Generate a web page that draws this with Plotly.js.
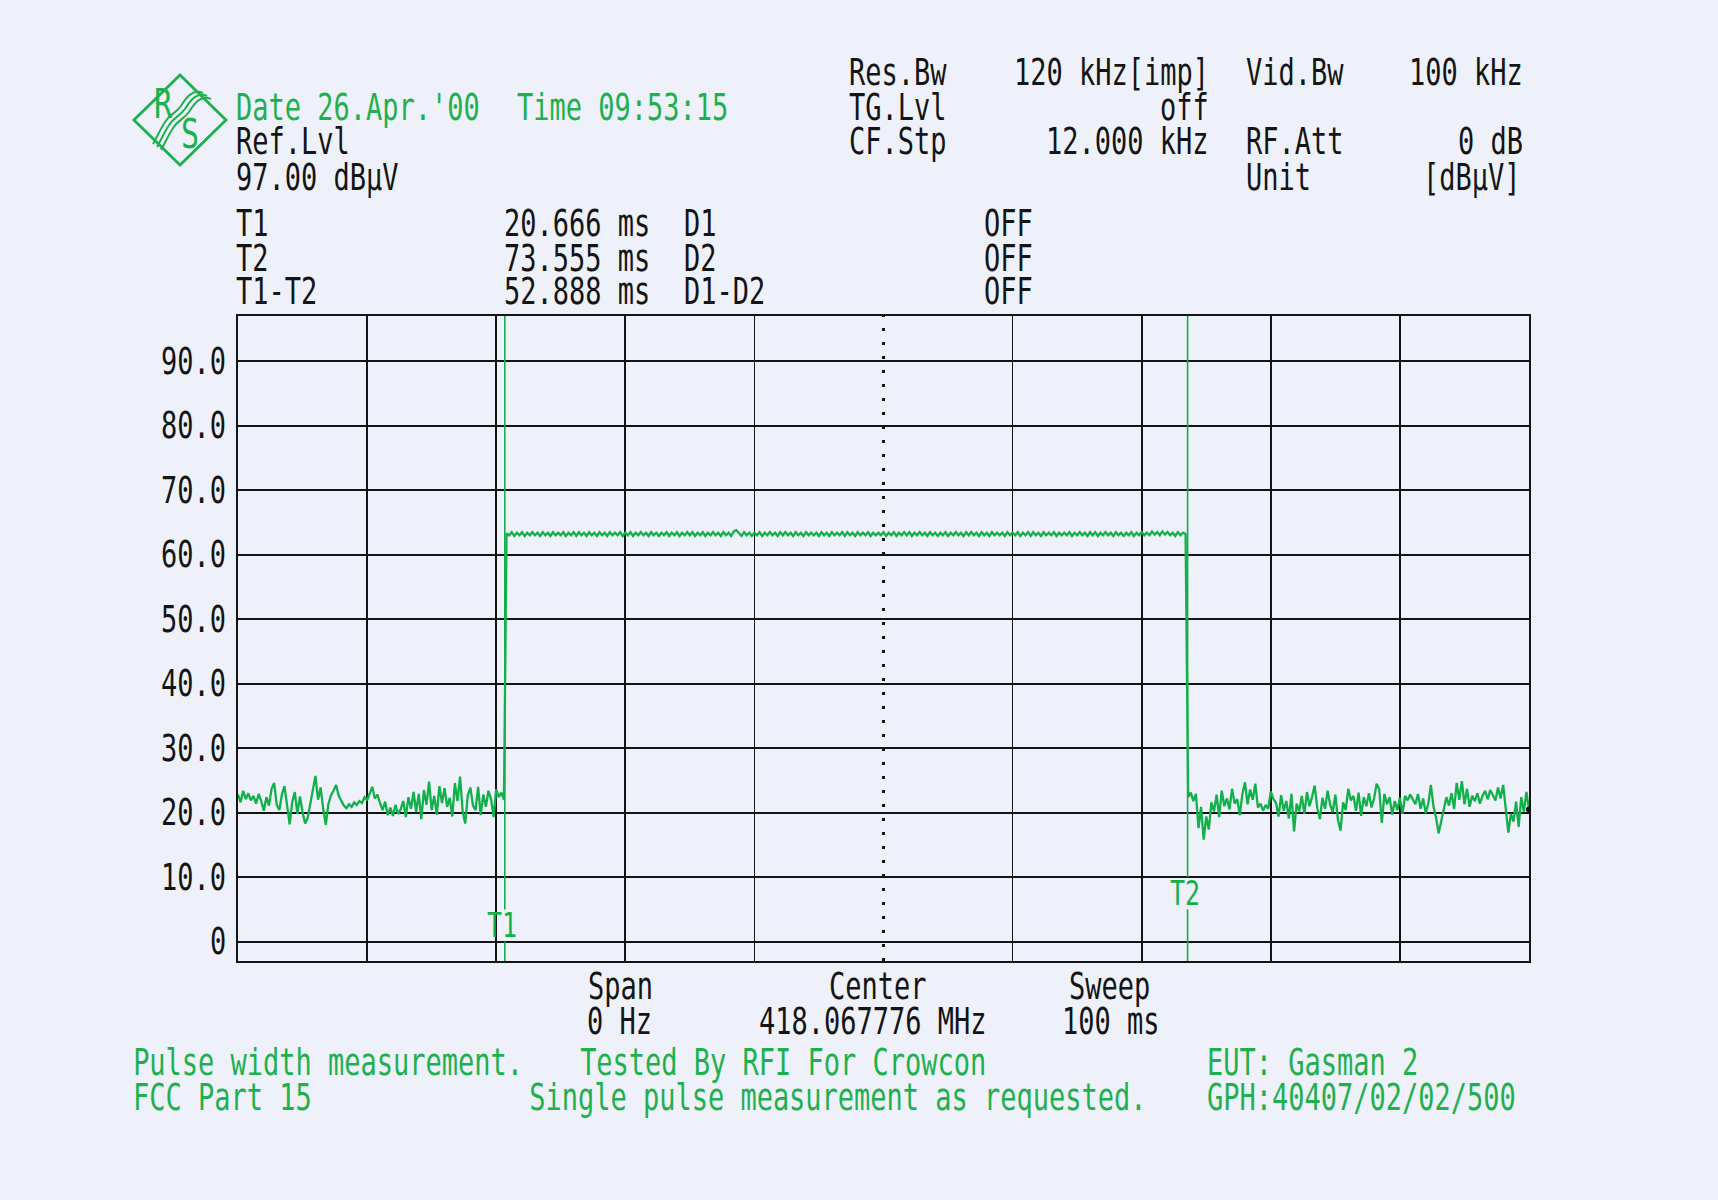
<!DOCTYPE html>
<html>
<head>
<meta charset="utf-8">
<script src="https://cdn.plot.ly/plotly-3.0.1.min.js"></script>
<style>
  body { margin: 0; background: #edf1f9; }
  #chart { width: 1718px; height: 1200px; }
</style>
</head>
<body>
<div id="chart"></div>
<script>
// sweep settings of the analyzer
var sweepTime = 100;   // ms
var sweepStep = 0.2;   // ms between trace points

// trace levels in dBuV
var noiseBefore = [
  22.8, 21.6, 23.4, 22.1, 23.0, 21.9, 22.6, 21.4,
  22.9, 21.8, 20.3, 22.4, 21.1, 23.7, 24.6, 21.2,
  20.4, 22.8, 24.1, 20.9, 18.2, 21.6, 23.2, 19.8,
  22.5, 20.1, 18.3, 19.2, 21.4, 23.5, 25.7, 22.0,
  23.9, 20.6, 18.1, 21.3, 22.7, 23.4, 24.3, 22.6,
  21.9, 21.1, 20.7, 21.3, 20.9, 21.6, 21.2, 21.8,
  21.5, 22.4, 21.9, 23.1, 24.0, 22.2, 22.8, 21.5,
  20.4, 21.7, 19.6, 20.8, 19.5, 21.2, 19.8, 20.5,
  21.8, 19.3, 22.4, 20.6, 23.2, 20.1, 22.9, 19.0,
  23.5, 21.2, 24.8, 20.4, 22.6, 19.7, 24.1, 21.5,
  23.8, 20.9, 22.3, 19.4, 24.6, 21.8, 25.6, 20.2,
  18.3, 22.7, 23.9, 21.1, 20.4, 24.0, 19.6, 22.8,
  20.9, 23.4, 22.1, 19.3, 23.6, 22.4, 23.1, 22.0
];

var pulseTop = [
  63.3, 63.0, 63.5, 62.9, 63.4, 63.0, 63.5, 62.9, 63.4, 63.0, 63.5, 63.0,
  63.4, 62.9, 63.5, 63.0, 63.4, 62.9, 63.5, 63.0, 63.4, 63.0, 63.5, 62.9,
  63.4, 63.0, 63.5, 62.9, 63.5, 63.0, 63.4, 62.9, 63.5, 63.0, 63.4, 62.9,
  63.5, 63.0, 63.4, 62.9, 63.5, 63.0, 63.4, 63.0, 63.5, 62.9, 63.4, 63.0,
  63.5, 62.9, 63.4, 63.0, 63.5, 63.0, 63.4, 62.9, 63.5, 63.0, 63.4, 62.9,
  63.4, 63.0, 63.5, 62.9, 63.4, 63.0, 63.5, 62.9, 63.4, 63.0, 63.5, 63.0,
  63.5, 62.9, 63.4, 63.0, 63.5, 62.9, 63.4, 63.0, 63.5, 63.0, 63.4, 62.9,
  63.5, 63.0, 63.4, 62.9, 63.6, 63.8, 63.3, 62.9, 63.5, 63.0, 63.4, 62.9,
  63.4, 63.0, 63.5, 62.9, 63.4, 63.0, 63.5, 63.0, 63.4, 62.9, 63.5, 63.0,
  63.5, 63.0, 63.4, 62.9, 63.5, 63.0, 63.4, 62.9, 63.5, 63.0, 63.4, 63.0,
  63.4, 62.9, 63.5, 63.0, 63.4, 62.9, 63.5, 63.0, 63.4, 63.0, 63.5, 62.9,
  63.5, 63.0, 63.4, 62.9, 63.5, 63.0, 63.4, 63.0, 63.5, 62.9, 63.4, 63.0,
  63.4, 63.0, 63.5, 62.9, 63.4, 63.0, 63.5, 62.9, 63.4, 63.0, 63.5, 63.0,
  63.5, 62.9, 63.4, 63.0, 63.5, 63.0, 63.4, 62.9, 63.5, 63.0, 63.4, 62.9,
  63.4, 63.0, 63.5, 62.9, 63.4, 63.0, 63.5, 63.0, 63.4, 62.9, 63.5, 63.0,
  63.5, 63.0, 63.4, 62.9, 63.5, 63.0, 63.4, 62.9, 63.5, 63.0, 63.4, 63.0,
  63.4, 62.9, 63.5, 63.0, 63.4, 63.0, 63.5, 62.9, 63.4, 63.0, 63.5, 62.9,
  63.5, 63.0, 63.4, 62.9, 63.5, 63.0, 63.4, 63.0, 63.5, 62.9, 63.4, 63.0,
  63.4, 63.0, 63.5, 62.9, 63.4, 63.0, 63.5, 63.0, 63.4, 62.9, 63.5, 63.0,
  63.5, 62.9, 63.4, 63.0, 63.5, 63.0, 63.4, 62.9, 63.5, 63.0, 63.4, 62.9,
  63.4, 63.0, 63.5, 62.9, 63.4, 63.0, 63.5, 63.0, 63.4, 63.0, 63.6, 63.1,
  63.5, 63.0, 63.6, 63.1, 63.5, 63.0, 63.4, 62.9, 63.5, 63.0, 63.4, 63.2
];

var noiseAfter = [
  22.4, 23.1, 21.8, 22.9, 17.6, 20.9, 15.8, 19.4,
  17.4, 21.6, 20.2, 22.8, 19.3, 23.4, 21.0, 22.2,
  20.5, 23.7, 21.4, 22.1, 19.6, 22.9, 24.7, 21.3,
  23.6, 22.0, 24.5, 20.8, 21.4, 20.3, 21.2, 20.6,
  23.3, 22.1, 21.5, 19.4, 22.7, 20.3, 21.8, 19.1,
  22.9, 17.1, 21.4, 20.2, 22.6, 19.8, 23.2, 21.0,
  22.5, 24.2, 20.7, 19.0, 22.3, 20.6, 23.4, 21.2,
  20.1, 22.8, 18.9, 17.2, 21.6, 20.4, 23.7, 21.9,
  22.6, 20.3, 23.1, 19.5, 22.4, 21.0, 23.0, 20.8,
  22.2, 24.5, 23.6, 18.4, 22.9, 21.3, 22.4, 19.7,
  21.8, 20.4, 22.3, 19.8, 22.6, 21.9, 22.8, 22.1,
  21.3, 22.9, 20.6, 22.2, 19.9, 21.4, 24.3, 21.0,
  19.2, 16.8, 18.5, 20.7, 22.4, 21.1, 23.0, 20.6,
  24.6, 22.0, 24.9, 21.3, 23.7, 20.9, 22.6, 21.8,
  23.0, 21.4, 22.6, 23.4, 22.1, 23.5, 22.8, 21.9,
  23.9, 22.2, 24.3, 20.5, 16.9, 19.8, 18.6, 21.7,
  17.8, 22.4, 20.1, 23.2, 20.5
];

var markerNames = ['T1', 'T2'];
var markerTimes = [20.666, 73.555];

var levelTicks = [0, 10, 20, 30, 40, 50, 60, 70, 80, 90];
var levelLabels = ['0', '10.0', '20.0', '30.0', '40.0', '50.0', '60.0', '70.0', '80.0', '90.0'];
var timeGrid = [10, 20, 30, 40, 60, 70, 80, 90];
var centerTime = 50;

// look
var paperTint = '#eef1f9';
var ink = '#141414';
var traceGreen = '#12b04a';
var textGreen = '#1fb04e';
var mono = '"DejaVu Sans Mono", "Liberation Mono", monospace';

// plot box on the page, in pixels
var boxL = 238, boxR = 1529, boxT = 316, boxB = 961;
function px(x) { return (x - boxL) / (boxR - boxL); }
function py(y) { return (boxB - y) / (boxB - boxT); }
function pt(x, y) { return px(x).toFixed(4) + ',' + py(y).toFixed(4); }

var level = noiseBefore.concat(pulseTop, noiseAfter);
var times = level.map(function (v, i) { return Math.round(i * sweepStep * 1000) / 1000; });

var trace = {
  x: times,
  y: level,
  type: 'scatter',
  mode: 'lines',
  line: {color: traceGreen, width: 2.3},
  hoverinfo: 'skip'
};

var endDot = {
  x: [times[times.length - 1]],
  y: [level[level.length - 1]],
  type: 'scatter',
  mode: 'markers',
  marker: {color: ink, size: 6},
  hoverinfo: 'skip'
};

function txt(s, x, y, anchor, color, size) {
  anchor = anchor || 'left';
  // small nudge for the annotation padding
  if (anchor == 'left') x = x - 2;
  if (anchor == 'right') x = x + 4;
  return {
    text: s, xref: 'paper', yref: 'paper', x: px(x), y: py(y),
    xanchor: anchor, yanchor: 'middle', showarrow: false,
    font: {family: mono, size: size || 27, color: color || ink}
  };
}

var notes = [
  // header, right block
  txt('Res.Bw', 849, 73), txt('120 kHz[imp]', 1207, 73, 'right'),
  txt('Vid.Bw', 1246, 73), txt('100 kHz', 1521, 73, 'right'),
  txt('TG.Lvl', 849, 107), txt('off', 1207, 107, 'right'),
  txt('CF.Stp', 849, 142), txt('12.000 kHz', 1207, 142, 'right'),
  txt('RF.Att', 1246, 142), txt('0 dB', 1521, 142, 'right'),
  txt('Unit', 1246, 177), txt('[dBµV]', 1519, 177, 'right'),
  // header, left block
  txt("Date 26.Apr.'00", 236, 107, 'left', textGreen),
  txt('Time 09:53:15', 517, 107, 'left', textGreen),
  txt('Ref.Lvl', 236, 142), txt('97.00 dBµV', 236, 177),
  txt('T1', 236, 223), txt('20.666 ms', 504, 223), txt('D1', 684, 223), txt('OFF', 984, 223),
  txt('T2', 236, 258), txt('73.555 ms', 504, 258), txt('D2', 684, 258), txt('OFF', 984, 258),
  txt('T1-T2', 236, 292), txt('52.888 ms', 504, 292), txt('D1-D2', 684, 292), txt('OFF', 984, 292),
  // below the grid
  txt('Span', 588, 986), txt('0 Hz', 587, 1021),
  txt('Center', 829, 986), txt('418.067776 MHz', 759, 1021),
  txt('Sweep', 1069, 986), txt('100 ms', 1062, 1021),
  txt('Pulse width measurement.', 133, 1062, 'left', textGreen),
  txt('Tested By RFI For Crowcon', 580, 1062, 'left', textGreen),
  txt('EUT: Gasman 2', 1207, 1062, 'left', textGreen),
  txt('FCC Part 15', 133, 1097, 'left', textGreen),
  txt('Single pulse measurement as requested.', 529, 1097, 'left', textGreen),
  txt('GPH:40407/02/02/500', 1207, 1097, 'left', textGreen),
  // logo letters
  txt('R', 163, 103, 'center', textGreen, 30),
  txt('S', 190, 133, 'center', textGreen, 30)
];

// level scale labels
levelTicks.forEach(function (v, i) {
  notes.push({
    text: levelLabels[i], xref: 'paper', yref: 'y', x: px(228), y: v,
    xanchor: 'right', yanchor: 'middle', showarrow: false,
    font: {family: mono, size: 27, color: ink}
  });
});

var shapes = [];

// centre line is dotted
shapes.push({
  type: 'line', xref: 'x', yref: 'paper', x0: centerTime, x1: centerTime, y0: 0, y1: 1,
  line: {color: ink, width: 3, dash: '3px,11px'}
});

// time markers with a gap for their label
var labelLevel = [2.5, 7.5];
var gap = 2.5;
markerTimes.forEach(function (t, i) {
  shapes.push({
    type: 'line', xref: 'x', yref: 'y', x0: t, x1: t, y0: labelLevel[i] + gap, y1: 97,
    line: {color: traceGreen, width: 1.6}
  });
  shapes.push({
    type: 'line', xref: 'x', yref: 'y', x0: t, x1: t, y0: -3, y1: labelLevel[i] - gap,
    line: {color: traceGreen, width: 1.6}
  });
  notes.push({
    text: markerNames[i], xref: 'x', yref: 'y', x: t, y: labelLevel[i],
    xanchor: 'center', yanchor: 'middle', xshift: -3, showarrow: false,
    font: {family: mono, size: 25, color: traceGreen}
  });
});

// R&S diamond logo
shapes.push({
  type: 'path', xref: 'paper', yref: 'paper',
  path: 'M' + pt(134, 120) + ' L' + pt(180, 75) + ' L' + pt(226, 120) + ' L' + pt(180, 165) + ' Z',
  line: {color: textGreen, width: 2.8}
});
[-1, 0, 1].forEach(function (k) {
  var dx = k * 4, dy = k * 3;
  shapes.push({
    type: 'path', xref: 'paper', yref: 'paper',
    path: 'M' + pt(207 + dx, 96 + dy) +
          ' C' + pt(197 + dx, 91 + dy) + ' ' + pt(190 + dx, 101 + dy) + ' ' + pt(185 + dx, 109 + dy) +
          ' C' + pt(179 + dx, 117 + dy) + ' ' + pt(173 + dx, 118 + dy) + ' ' + pt(169 + dx, 125 + dy) +
          ' C' + pt(165 + dx, 131 + dy) + ' ' + pt(162 + dx, 138 + dy) + ' ' + pt(157 + dx, 147 + dy),
    line: {color: textGreen, width: 2}
  });
});

var layout = {
  width: 1718,
  height: 1200,
  margin: {l: boxL, r: 1718 - boxR, t: boxT, b: 1200 - boxB, pad: 0},
  paper_bgcolor: paperTint,
  plot_bgcolor: paperTint,
  showlegend: false,
  xaxis: {
    range: [0, sweepTime], tickvals: timeGrid, showticklabels: false, ticks: '',
    showgrid: true, gridcolor: ink, gridwidth: 1.8, zeroline: false,
    showline: true, mirror: true, linecolor: ink, linewidth: 2.2, fixedrange: true
  },
  yaxis: {
    range: [-3, 97], tickvals: levelTicks, showticklabels: false, ticks: '',
    showgrid: true, gridcolor: ink, gridwidth: 1.8, zeroline: false,
    showline: true, mirror: true, linecolor: ink, linewidth: 2.2, fixedrange: true
  },
  shapes: shapes,
  annotations: notes
};

// the plotter font is tall and narrow, so stretch the text upward
function stretchText(gd) {
  var texts = gd.querySelectorAll('.annotation-text');
  for (var i = 0; i < texts.length; i++) {
    texts[i].style.transformBox = 'fill-box';
    texts[i].style.transformOrigin = 'center';
    texts[i].style.transform = 'scaleY(1.38)';
  }
}

Plotly.newPlot('chart', [trace, endDot], layout, {staticPlot: true, displayModeBar: false})
  .then(stretchText);
</script>
</body>
</html>
